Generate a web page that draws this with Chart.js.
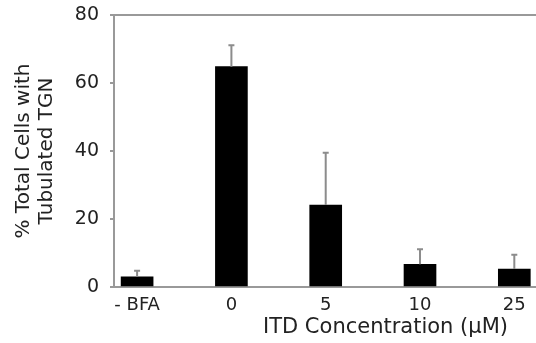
<!DOCTYPE html>
<html>
<head>
<meta charset="utf-8">
<script src="https://cdn.jsdelivr.net/npm/chart.js@4"></script>
<style>
    html, body { margin: 0; padding: 0; background: #fff; }
    #wrap { position: relative; width: 536px; height: 343px; }
    #xTitle {
        position: absolute; left: 263px; top: 314px;
        font: 21px "DejaVu Sans", sans-serif; color: #222; white-space: nowrap;
    }
</style>
</head>
<body>
<div id="wrap">
    <canvas id="chart" width="536" height="343"></canvas>
    <div id="xTitle">ITD Concentration (μM)</div>
</div>
<script>
const CATEGORIES = ["- BFA", "0", "5", "10", "25"];
const MEANS = [3.0, 64.8, 24.1, 6.7, 5.3];
const ERRORS = [1.8, 6.3, 15.4, 4.4, 4.2];
const Y_TICKS = [0, 20, 40, 60, 80];

const AXIS_GREY = "#999";
const TEXT_COLOR = "#222";

// upper half error bars, drawn through the chart scales
const errorBars = {
    id: "errorBars",
    afterDatasetsDraw(chart) {
        const { ctx, scales: { x, y } } = chart;
        ctx.save();
        ctx.strokeStyle = "#8c8c8c";
        ctx.lineWidth = 2;
        MEANS.forEach((m, i) => {
            const px = x.getPixelForValue(i);
            const top = y.getPixelForValue(m + ERRORS[i]);
            const bottom = y.getPixelForValue(m);
            ctx.beginPath();
            ctx.moveTo(px, bottom);
            ctx.lineTo(px, top);
            ctx.moveTo(px - 3, top);
            ctx.lineTo(px + 3, top);
            ctx.stroke();
        });
        ctx.restore();
    }
};

new Chart(document.getElementById("chart"), {
    type: "bar",
    data: {
        datasets: [{
            data: MEANS.map((v, i) => ({ x: i, y: v })),
            backgroundColor: "#000",
            barThickness: 32,
        }],
    },
    options: {
        responsive: false,
        animation: false,
        layout: { padding: { top: 15, right: 0, bottom: 0, left: 0 } },
        plugins: { legend: { display: false }, tooltip: { enabled: false } },
        scales: {
            x: {
                type: "linear",
                offset: false,
                min: -0.245,
                max: 4.23,
                afterFit(scale) {
                    scale.height = 56;
                    scale.paddingLeft = 0;
                    scale.paddingRight = 0;
                },
                afterBuildTicks(scale) {
                    scale.ticks = CATEGORIES.map((c, i) => ({ value: i }));
                },
                grid: { display: false },
                border: { color: AXIS_GREY, width: 2 },
                ticks: {
                    autoSkip: false,
                    maxRotation: 0,
                    padding: 0,
                    color: TEXT_COLOR,
                    font: { family: "DejaVu Sans", size: 18 },
                    callback: (v) => CATEGORIES[v] ?? "",
                },
            },
            y: {
                min: 0,
                max: 80,
                afterFit(scale) {
                    scale.width = 114;
                    scale.paddingTop = 0;
                    scale.paddingBottom = 0;
                },
                afterBuildTicks(scale) {
                    scale.ticks = Y_TICKS.map((v) => ({ value: v }));
                },
                border: { color: AXIS_GREY, width: 2 },
                grid: {
                    color: (c) => (c.tick && c.tick.value === 80 ? AXIS_GREY : "transparent"),
                    lineWidth: 2,
                    tickColor: AXIS_GREY,
                    tickLength: 4,
                },
                ticks: {
                    padding: 11,
                    color: TEXT_COLOR,
                    font: { family: "DejaVu Sans", size: 19 },
                },
                title: {
                    display: true,
                    text: ["% Total Cells with", "Tubulated TGN"],
                    color: TEXT_COLOR,
                    font: { family: "DejaVu Sans", size: 20, lineHeight: 1.15 },
                    padding: { top: 12, bottom: 0 },
                },
            },
        },
    },
    plugins: [errorBars],
});
</script>
</body>
</html>
